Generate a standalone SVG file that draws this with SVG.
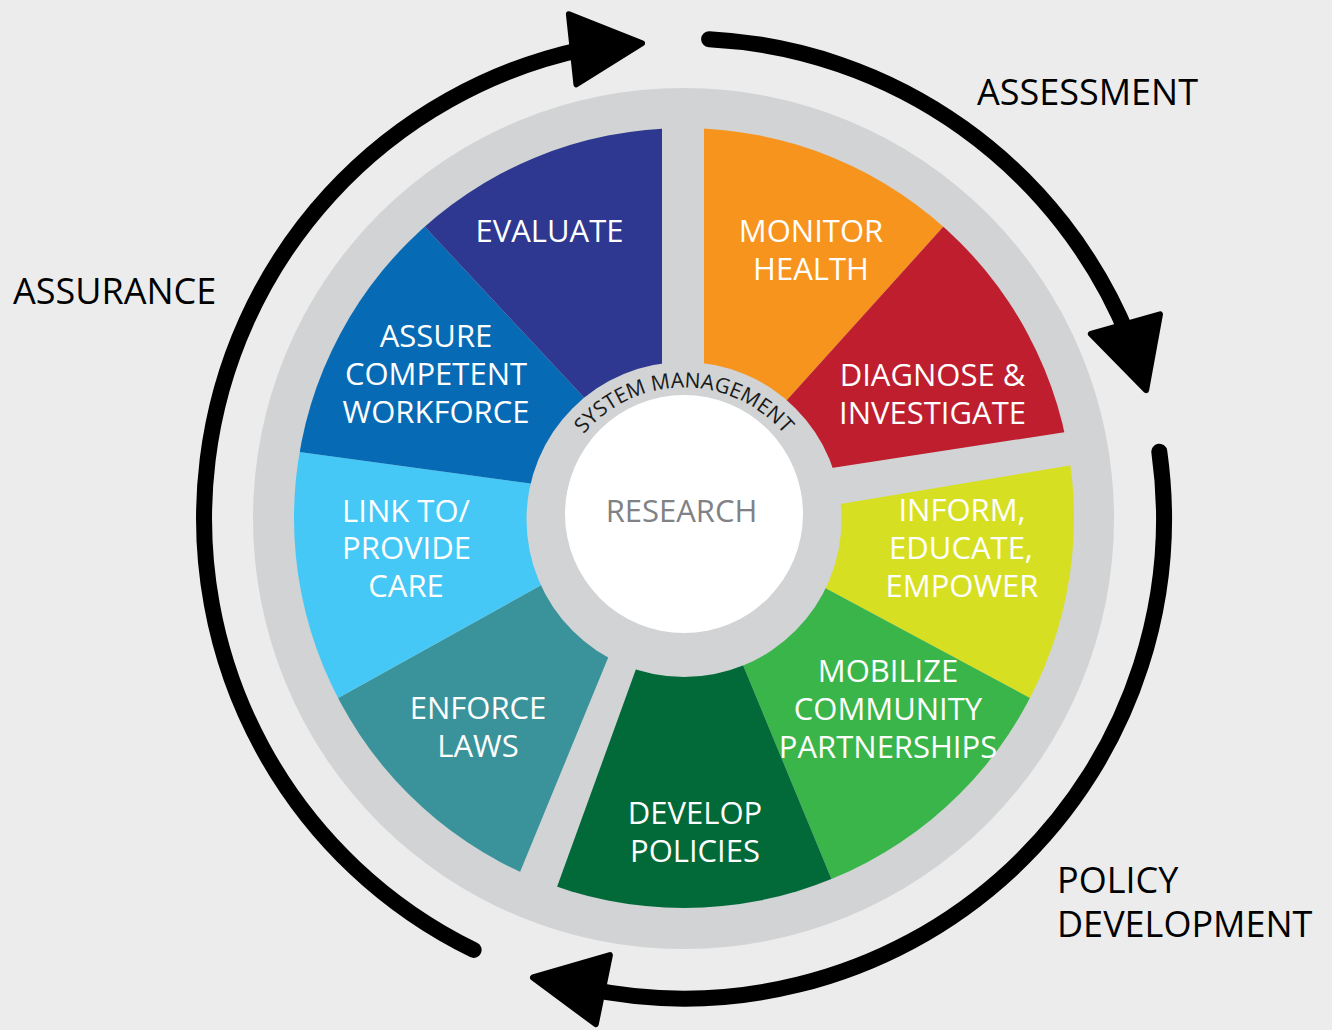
<svg xmlns="http://www.w3.org/2000/svg" width="1332" height="1030" viewBox="0 0 1332 1030">
  <style>
    .lbl { font-family: "Open Sans", "Noto Sans", "Liberation Sans", sans-serif; font-size: 31px; fill: #ffffff; text-anchor: middle; }
    .phase { font-family: "Open Sans", "Noto Sans", "Liberation Sans", sans-serif; font-size: 36px; fill: #000000; }
    .sm { font-family: "Open Sans", "Noto Sans", "Liberation Sans", sans-serif; font-size: 21px; fill: #1a1a1a; }
    .arc { fill: none; stroke: #000000; stroke-width: 16; stroke-linecap: round; }
    .head { fill: #000000; stroke: #000000; stroke-width: 6; stroke-linejoin: round; }
  </style>
  <defs>
    <clipPath id="wheelClip">
      <circle cx="684" cy="518" r="390"/>
    </clipPath>
    <path id="smArc" d="M 553 518.5 A 131 131 0 0 1 815 518.5"/>
  </defs>

  <rect x="0" y="0" width="1332" height="1030" fill="#ebeceb"/>

  <g id="wheel-base">
    <circle cx="683.5" cy="518.5" r="430.5" fill="#d1d3d4"/>
  </g>

  <g clip-path="url(#wheelClip)">
    <g id="monitor-health">
      <polygon points="704,400 704,60 996.6,167.6 766.9,422.3" fill="#f7941e"/>
    </g>
    <g id="diagnose-investigate">
      <polygon points="766.9,422.3 996.6,167.6 1150,419 802.4,472.6" fill="#be1e2e"/>
    </g>
    <g id="inform-educate-empower">
      <polygon points="810.4,509 1150,452 1130,751.7 798.6,573.8" fill="#d7df23"/>
    </g>
    <g id="mobilize-community">
      <polygon points="798.6,573.8 1130,751.7 865,960 731.5,637.3" fill="#3ab54a"/>
    </g>
    <g id="develop-policies">
      <polygon points="731.5,637.3 865,960 530.5,960 646.9,639.1" fill="#026938"/>
    </g>
    <g id="enforce-laws">
      <polygon points="619.4,630.3 483.8,960 270,735.9 565.6,571.6" fill="#3a939a"/>
    </g>
    <g id="link-provide-care">
      <polygon points="565.6,571.6 270,735.9 220.7,441.2 556.7,487.1" fill="#45c8f5"/>
    </g>
    <g id="assure-workforce">
      <polygon points="556.7,487.1 220.7,441.2 370.4,168.4 602.1,417.1" fill="#066bb4"/>
    </g>
    <g id="evaluate">
      <polygon points="602.1,417.1 370.4,168.4 662,60 662,400" fill="#2e3890"/>
    </g>
  </g>

  <g id="system-management">
    <circle cx="684" cy="519.5" r="157.5" fill="#d1d3d4"/>
    <text class="sm"><textPath href="#smArc" startOffset="50%" text-anchor="middle">SYSTEM MANAGEMENT</textPath></text>
  </g>

  <g id="research">
    <circle cx="684" cy="514" r="119" fill="#ffffff"/>
    <text x="681.5" y="522" class="lbl" style="fill:#808285">RESEARCH</text>
  </g>

  <g id="labels">
    <text x="549.5" y="242" class="lbl">EVALUATE</text>
    <text class="lbl"><tspan x="811" y="242">MONITOR</tspan><tspan x="811" y="280">HEALTH</tspan></text>
    <text class="lbl"><tspan x="932.5" y="386">DIAGNOSE &amp;</tspan><tspan x="932.5" y="424">INVESTIGATE</tspan></text>
    <text class="lbl"><tspan x="436" y="347">ASSURE</tspan><tspan x="436" y="385">COMPETENT</tspan><tspan x="436" y="423">WORKFORCE</tspan></text>
    <text class="lbl"><tspan x="406" y="522">LINK TO/</tspan><tspan x="406.5" y="559">PROVIDE</tspan><tspan x="406" y="597">CARE</tspan></text>
    <text class="lbl"><tspan x="962" y="521">INFORM,</tspan><tspan x="961" y="559">EDUCATE,</tspan><tspan x="962" y="597">EMPOWER</tspan></text>
    <text class="lbl"><tspan x="888" y="682">MOBILIZE</tspan><tspan x="888" y="720">COMMUNITY</tspan><tspan x="888" y="758">PARTNERSHIPS</tspan></text>
    <text class="lbl"><tspan x="478" y="719">ENFORCE</tspan><tspan x="478" y="757">LAWS</tspan></text>
    <text class="lbl"><tspan x="695" y="824">DEVELOP</tspan><tspan x="695" y="862">POLICIES</tspan></text>
  </g>

  <g id="connectors">
    <path class="arc" d="M 473.6 949.9 A 480 480 0 0 1 584.2 49.0"/>
    <polygon class="head" points="568.9,14.3 642,43.3 576.4,84.3"/>
    <path class="arc" d="M 709.1 39.2 A 480 480 0 0 1 1129.1 338.7"/>
    <polygon class="head" points="1090.9,333.8 1160,314.3 1146.1,390.1"/>
    <path class="arc" d="M 1159.3 451.7 A 480 480 0 0 1 584.2 988.0"/>
    <polygon class="head" points="609.9,955.1 595.8,1024.2 533,977.5"/>
  </g>

  <g id="phase-labels">
    <text x="977" y="105" class="phase">ASSESSMENT</text>
    <text x="13" y="304" class="phase">ASSURANCE</text>
    <text class="phase"><tspan x="1057" y="893">POLICY</tspan><tspan x="1057" y="937">DEVELOPMENT</tspan></text>
  </g>
</svg>
